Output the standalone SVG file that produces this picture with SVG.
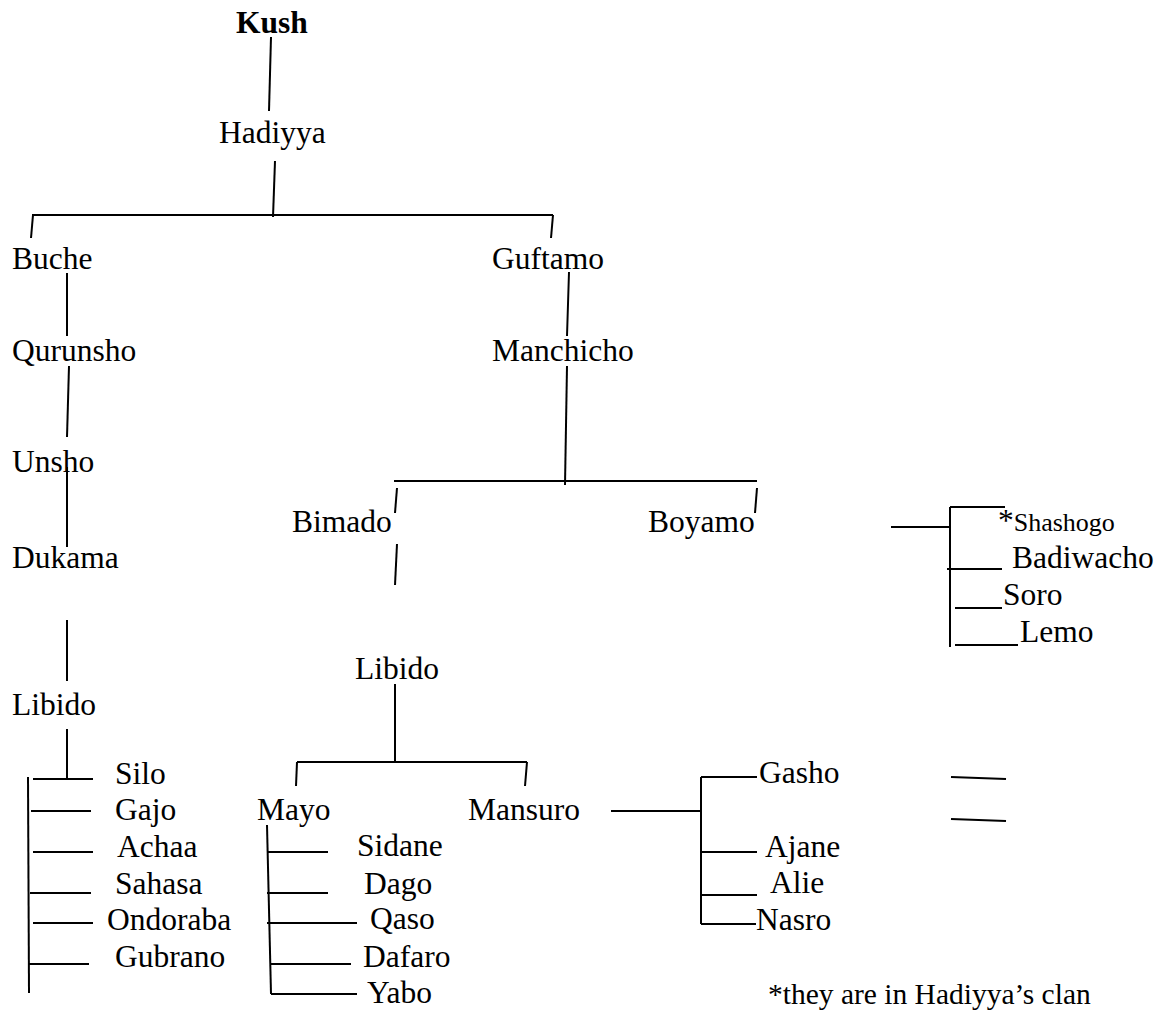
<svg xmlns="http://www.w3.org/2000/svg" width="1157" height="1012" viewBox="0 0 1157 1012">
<style>
text{font-family:"Liberation Serif","Times New Roman",serif;font-size:31.5px;fill:#000}
.b{font-weight:bold}
.sm{font-size:26px}
.fn{font-size:29.5px}
#connectors line{stroke:#000;stroke-width:2;stroke-linecap:butt}
</style>
<rect width="1157" height="1012" fill="#fff"/>
<g id="connectors">
<line x1="271" y1="37" x2="269" y2="111"/>
<line x1="275" y1="161" x2="273" y2="217"/>
<line x1="32" y1="215" x2="553" y2="215"/>
<line x1="33" y1="215" x2="31" y2="238"/>
<line x1="553" y1="215" x2="551" y2="238"/>
<line x1="67" y1="273" x2="67" y2="336"/>
<line x1="569" y1="272" x2="567" y2="336"/>
<line x1="69" y1="366" x2="67" y2="437"/>
<line x1="67" y1="467" x2="67" y2="547"/>
<line x1="67" y1="620" x2="67" y2="681"/>
<line x1="67" y1="729" x2="67" y2="779"/>
<line x1="567" y1="366" x2="565" y2="485"/>
<line x1="394" y1="481" x2="757" y2="481"/>
<line x1="397" y1="488" x2="395" y2="513"/>
<line x1="757" y1="488" x2="755" y2="513"/>
<line x1="397" y1="544" x2="395" y2="585"/>
<line x1="395" y1="684" x2="395" y2="762"/>
<line x1="297" y1="762" x2="527" y2="762"/>
<line x1="297" y1="762" x2="296" y2="786"/>
<line x1="527" y1="762" x2="525" y2="786"/>
<line x1="28" y1="777" x2="29" y2="993"/>
<line x1="33" y1="779" x2="93" y2="779"/>
<line x1="31" y1="811" x2="91" y2="811"/>
<line x1="33" y1="852" x2="93" y2="852"/>
<line x1="30" y1="893" x2="91" y2="893"/>
<line x1="33" y1="923" x2="93" y2="923"/>
<line x1="28" y1="964" x2="89" y2="964"/>
<line x1="267" y1="825" x2="271" y2="994"/>
<line x1="267" y1="852" x2="328" y2="852"/>
<line x1="267" y1="893" x2="328" y2="893"/>
<line x1="267" y1="923" x2="357" y2="923"/>
<line x1="270" y1="964" x2="351" y2="964"/>
<line x1="271" y1="994" x2="357" y2="994"/>
<line x1="611" y1="811" x2="701" y2="811"/>
<line x1="701" y1="777" x2="701" y2="924"/>
<line x1="701" y1="777" x2="757" y2="777"/>
<line x1="701" y1="852" x2="757" y2="852"/>
<line x1="701" y1="895" x2="757" y2="895"/>
<line x1="701" y1="924" x2="756" y2="924"/>
<line x1="951" y1="777" x2="1006" y2="779"/>
<line x1="951" y1="819" x2="1006" y2="821"/>
<line x1="891" y1="527" x2="950" y2="527"/>
<line x1="950" y1="507" x2="950" y2="647"/>
<line x1="950" y1="507" x2="1005" y2="507"/>
<line x1="947" y1="569" x2="1002" y2="569"/>
<line x1="955" y1="608" x2="1002" y2="608"/>
<line x1="955" y1="645" x2="1018" y2="645"/>
</g>
<g id="kush"><text class="b" x="236" y="33">Kush</text></g>
<g id="hadiyya"><text x="219" y="143">Hadiyya</text></g>
<g id="buche"><text x="12" y="269">Buche</text></g>
<g id="guftamo"><text x="492" y="269">Guftamo</text></g>
<g id="qurunsho"><text x="12" y="361">Qurunsho</text></g>
<g id="manchicho"><text x="492" y="361">Manchicho</text></g>
<g id="unsho"><text x="12" y="472">Unsho</text></g>
<g id="dukama"><text x="12" y="568">Dukama</text></g>
<g id="libido-left"><text x="12" y="715">Libido</text></g>
<g id="bimado"><text x="292" y="532">Bimado</text></g>
<g id="boyamo"><text x="648" y="532">Boyamo</text></g>
<g id="libido-mid"><text x="355" y="679">Libido</text></g>
<g id="silo"><text x="115" y="784">Silo</text></g>
<g id="gajo"><text x="115" y="820">Gajo</text></g>
<g id="achaa"><text x="117" y="857">Achaa</text></g>
<g id="sahasa"><text x="115" y="894">Sahasa</text></g>
<g id="ondoraba"><text x="107" y="930">Ondoraba</text></g>
<g id="gubrano"><text x="115" y="967">Gubrano</text></g>
<g id="mayo"><text x="257" y="820">Mayo</text></g>
<g id="mansuro"><text x="468" y="820">Mansuro</text></g>
<g id="sidane"><text x="357" y="856">Sidane</text></g>
<g id="dago"><text x="364" y="894">Dago</text></g>
<g id="qaso"><text x="370" y="929">Qaso</text></g>
<g id="dafaro"><text x="363" y="967">Dafaro</text></g>
<g id="yabo"><text x="367" y="1003">Yabo</text></g>
<g id="gasho"><text x="759" y="783">Gasho</text></g>
<g id="ajane"><text x="765" y="857">Ajane</text></g>
<g id="alie"><text x="770" y="893">Alie</text></g>
<g id="nasro"><text x="756" y="930">Nasro</text></g>
<g id="shashogo"><text x="998" y="531">*<tspan class="sm">Shashogo</tspan></text></g>
<g id="badiwacho"><text x="1012" y="568">Badiwacho</text></g>
<g id="soro"><text x="1003" y="605">Soro</text></g>
<g id="lemo"><text x="1020" y="642">Lemo</text></g>
<g id="footnote"><text class="fn" x="768" y="1004">*they are in Hadiyya’s clan</text></g>
</svg>
